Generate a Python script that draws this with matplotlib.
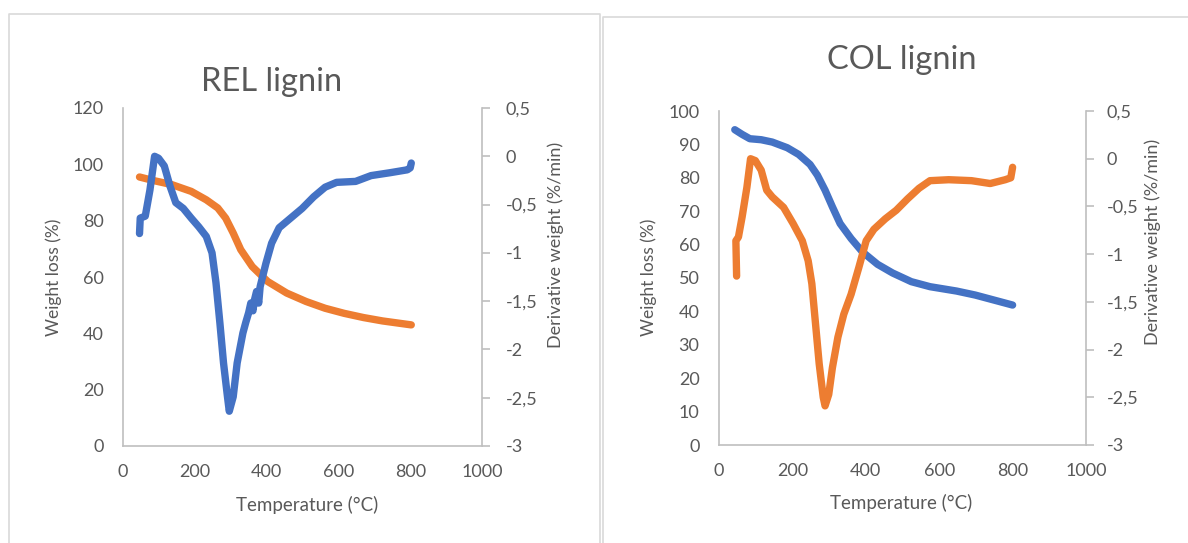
import numpy as np
import matplotlib
matplotlib.use("Agg")
import matplotlib.pyplot as plt
from matplotlib.lines import Line2D
from matplotlib.ticker import FuncFormatter

plt.rcParams['font.family'] = ['Lato', 'DejaVu Sans']

BLUE = '#4472C4'
ORANGE = '#ED7D31'
GRAY = '#595959'
AXC = '#BFBFBF'

# REL lignin: weight loss (orange, left axis), derivative (blue, right axis)
rel_wl_T = [46, 83, 136, 190, 232, 264, 286, 307, 328, 360, 403, 456, 510, 563, 616, 670, 723, 803]
rel_wl = [95.5, 94.3, 92.8, 90.4, 87.4, 84.5, 80.9, 75.6, 69.7, 63.7, 58.4, 54.3, 51.3, 48.9, 47.1, 45.6, 44.4, 43.0]

rel_dw_T = [46, 48, 62, 75, 88, 99, 115, 131, 147, 168, 190, 211, 232, 248, 259, 270, 280, 291, 296,
            307, 318, 334, 342, 350, 356, 362, 366, 372, 378, 382, 398, 414, 435, 467, 499, 531,
            563, 595, 648, 691, 744, 792, 800, 803]
rel_dw = [-0.80, -0.64, -0.62, -0.35, 0.00, -0.02, -0.10, -0.31, -0.48, -0.54, -0.64, -0.73, -0.83,
          -1.00, -1.31, -1.73, -2.14, -2.49, -2.64, -2.49, -2.14, -1.83, -1.72, -1.62, -1.52, -1.60,
          -1.49, -1.40, -1.52, -1.35, -1.11, -0.90, -0.74, -0.64, -0.54, -0.42, -0.32, -0.27, -0.26,
          -0.20, -0.17, -0.14, -0.12, -0.07]

# COL lignin: weight loss (blue, left axis), derivative (orange, right axis)
col_wl_T = [43, 63, 84, 115, 145, 186, 217, 248, 268, 289, 309, 330, 360, 391, 432, 473, 524, 575, 647, 698, 749, 800]
col_wl = [94.4, 93.0, 91.7, 91.4, 90.7, 89.0, 87.0, 84.0, 80.8, 76.3, 71.3, 66.3, 61.8, 57.8, 54.1,
          51.5, 48.9, 47.4, 46.1, 44.9, 43.4, 41.9]

col_dw_T = [48, 46, 53, 63, 76, 86, 99, 115, 130, 145, 176, 202, 227, 243, 253, 263, 273, 284, 289,
            299, 309, 324, 340, 360, 381, 401, 422, 453, 483, 514, 545, 575, 626, 688, 739, 780, 795, 800]
col_dw = [-1.23, -0.86, -0.82, -0.61, -0.30, 0.00, -0.02, -0.12, -0.33, -0.40, -0.51, -0.68, -0.86,
          -1.07, -1.31, -1.73, -2.15, -2.50, -2.59, -2.47, -2.19, -1.87, -1.63, -1.42, -1.14, -0.86,
          -0.74, -0.63, -0.54, -0.42, -0.31, -0.23, -0.22, -0.23, -0.26, -0.22, -0.20, -0.09]

W, H = 1188, 543
fig = plt.figure(figsize=(W / 100, H / 100), dpi=100)


def px_axes(l, t, r, b):
    return fig.add_axes([l / W, (H - b) / H, (r - l) / W, (b - t) / H])


def comma(v, pos):
    s = ('%g' % v).replace('.', ',')
    return '0' if s in ('-0', '0') else s


def style(ax, ax2, ymax, ystep, rpad):
    ax.set_xlim(0, 1000)
    ax.set_xticks(range(0, 1001, 200))
    ax.set_ylim(0, ymax)
    ax.set_yticks(np.arange(0, ymax + 1, ystep))
    ax2.set_ylim(-3, 0.5)
    ax2.set_yticks(np.arange(-3, 0.51, 0.5))
    ax2.yaxis.set_major_formatter(FuncFormatter(comma))
    for a in (ax, ax2):
        for s in a.spines.values():
            s.set_visible(False)
        a.tick_params(colors=GRAY, labelsize=13)
    ax.spines['left'].set_visible(True)
    ax.spines['bottom'].set_visible(True)
    ax2.spines['right'].set_visible(True)
    for s in (ax.spines['left'], ax.spines['bottom'], ax2.spines['right']):
        s.set_color(AXC)
        s.set_linewidth(1.2)
    ax.tick_params(axis='both', length=0)
    ax.tick_params(axis='y', pad=14)
    ax.tick_params(axis='x', pad=13)
    ax2.tick_params(axis='y', length=6, width=1.2, color=AXC, pad=rpad)


lw = 5.3

# left panel
ax1 = px_axes(123, 108, 482, 446)
ax1b = ax1.twinx()
style(ax1, ax1b, 120, 20, 11)
ax1.plot(rel_wl_T, rel_wl, color=ORANGE, lw=lw, solid_capstyle='round', solid_joinstyle='round')
ax1b.plot(rel_dw_T, rel_dw, color=BLUE, lw=lw, solid_capstyle='round', solid_joinstyle='round')

# right panel
ax2 = px_axes(719, 111, 1086, 445)
ax2b = ax2.twinx()
style(ax2, ax2b, 100, 10, 9)
ax2.plot(col_wl_T, col_wl, color=BLUE, lw=lw, solid_capstyle='round', solid_joinstyle='round')
ax2b.plot(col_dw_T, col_dw, color=ORANGE, lw=lw, solid_capstyle='round', solid_joinstyle='round')

# titles and axis titles in pixel positions
def ftext(x, y, s, **kw):
    fig.text(x / W, 1 - y / H, s, color=GRAY, ha='center', va='center', **kw)


ftext(272, 82, 'REL lignin', fontsize=23.5)
ftext(902, 60, 'COL lignin', fontsize=23.5)
ftext(307, 505, 'Temperature (°C)', fontsize=13.5)
ftext(901, 503, 'Temperature (°C)', fontsize=13.5)
ftext(54, 277, 'Weight loss (%)', fontsize=12.5, rotation=90)
ftext(556, 245, 'Derivative weight (%/min)', fontsize=13, rotation=90)
ftext(649, 277, 'Weight loss (%)', fontsize=12.5, rotation=90)
ftext(1153, 242, 'Derivative weight (%/min)', fontsize=13, rotation=90)

# chart-area borders
def fline(xs, ys):
    fig.add_artist(Line2D([x / W for x in xs], [1 - y / H for y in ys], color='#D9D9D9', lw=1.2))


fline([9, 9, 600, 600], [543, 14, 14, 543])
fline([603, 603, 1188], [543, 17, 17])

fig.savefig('out.png', dpi=100)
